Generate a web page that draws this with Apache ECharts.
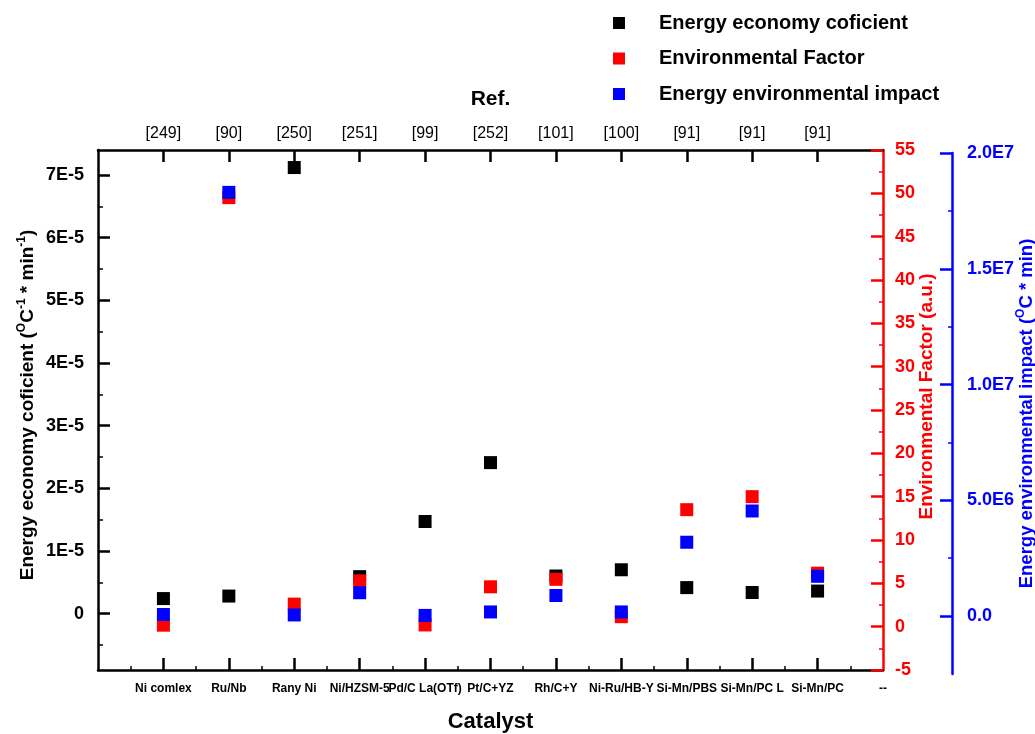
<!DOCTYPE html>
<html>
<head>
<meta charset="utf-8">
<script src="https://cdn.jsdelivr.net/npm/echarts@6/dist/echarts.min.js"></script>
<style>
html,body{margin:0;padding:0;background:#ffffff;}
#chart{width:1035px;height:734px;}
</style>
</head>
<body>
<div id="chart"></div>
<script>
// ---- data ----
const categories = ['Ni comlex', 'Ru/Nb', 'Rany Ni', 'Ni/HZSM-5', 'Pd/C La(OTf)', 'Pt/C+YZ', 'Rh/C+Y', 'Ni-Ru/HB-Y', 'Si-Mn/PBS', 'Si-Mn/PC L', 'Si-Mn/PC'];
const refLabels = ['[249]', '[90]', '[250]', '[251]', '[99]', '[252]', '[101]', '[100]', '[91]', '[91]', '[91]'];
const extraBottomLabel = '--';
const energyEconomy = [2.4e-6, 2.8e-6, 7.12e-5, 5.9e-6, 1.47e-5, 2.41e-5, 6.0e-6, 7.0e-6, 4.15e-6, 3.37e-6, 3.6e-6];
const envFactor = [0.17, 49.5, 2.6, 5.28, 0.2, 4.6, 5.46, 1.15, 13.5, 15.0, 6.17];
const energyEnvImpact = [7e4, 1.83e7, 5e4, 1.01e6, 3e4, 1.8e5, 8.9e5, 1.8e5, 3.19e6, 4.54e6, 1.72e6];
const seriesNames = ['Energy economy coficient', 'Environmental Factor', 'Energy environmental impact'];

// tick values
const xTickValues = [1, 2, 3, 4, 5, 6, 7, 8, 9, 10, 11];
const xBottomLabelValues = [1, 2, 3, 4, 5, 6, 7, 8, 9, 10, 11, 12];
const leftTickValues = [0, 1e-5, 2e-5, 3e-5, 4e-5, 5e-5, 6e-5, 7e-5];
const leftMinorValues = [-0.5e-5, 0.5e-5, 1.5e-5, 2.5e-5, 3.5e-5, 4.5e-5, 5.5e-5, 6.5e-5];
const blueTickValues = [0, 5e6, 1e7, 1.5e7, 2e7];
const blueMinorValues = [2.5e6, 7.5e6, 1.25e7, 1.75e7];

const FONT = 'Liberation Sans, Arial, Helvetica, sans-serif';
const BLACK = '#000000', RED = '#ff0000', BLUE = '#0000ff';

function leftFmt(v) {
  const n = Math.round(v * 1e5);
  return n === 0 ? '0' : n + 'E-5';
}
function blueFmt(v) {
  if (Math.abs(v) < 1) return '0.0';
  const e = Math.floor(Math.log10(Math.abs(v)) + 1e-9);
  const m = v / Math.pow(10, e);
  return m.toFixed(1) + 'E' + e;
}

const chart = echarts.init(document.getElementById('chart'), null, {renderer: 'canvas'});

const option = {
  animation: false,
  backgroundColor: '#ffffff',
  legend: {
    orient: 'vertical',
    left: 608,
    top: 8,
    itemWidth: 12,
    itemHeight: 12,
    itemGap: 15.5,
    icon: 'rect',
    data: seriesNames,
    textStyle: {fontFamily: FONT, fontSize: 20, fontWeight: 'bold', color: BLACK, lineHeight: 20, padding: [0, 0, 0, 29]}
  },
  grid: [
    {left: 98, right: 152, top: 150, bottom: 64, outerBoundsMode: 'none', containLabel: false},
    {left: 98, right: 152, top: 153, bottom: 60, outerBoundsMode: 'none', containLabel: false}
  ],
  xAxis: [
    {
      type: 'value', gridIndex: 0, position: 'bottom', min: 0, max: 12, interval: 1,
      name: 'Catalyst', nameLocation: 'middle', nameGap: 41, nameMoveOverlap: false,
      nameTextStyle: {fontFamily: FONT, fontSize: 22, fontWeight: 'bold', color: BLACK},
      axisLine: {show: true, onZero: false, lineStyle: {color: BLACK, width: 2.5}},
      axisTick: {show: true, inside: true, length: 12, lineStyle: {color: BLACK, width: 2.5}, customValues: xTickValues},
      minorTick: {show: true, splitNumber: 2, length: 4, lineStyle: {color: BLACK, width: 1.5}},
      axisLabel: {
        show: true, margin: 13, customValues: xBottomLabelValues, hideOverlap: false,
        fontFamily: FONT, fontSize: 12, fontWeight: 'bold', color: BLACK,
        formatter: v => (v >= 1 && v <= categories.length) ? categories[v - 1] : (v === 12 ? extraBottomLabel : '')
      },
      splitLine: {show: false}
    },
    {
      type: 'value', gridIndex: 0, position: 'top', min: 0, max: 12, interval: 1,
      name: 'Ref.', nameLocation: 'middle', nameGap: 40, nameMoveOverlap: false,
      nameTextStyle: {fontFamily: FONT, fontSize: 21, fontWeight: 'bold', color: BLACK},
      axisLine: {show: true, onZero: false, lineStyle: {color: BLACK, width: 2.5}},
      axisTick: {show: true, inside: true, length: 12, lineStyle: {color: BLACK, width: 2.5}, customValues: xTickValues},
      axisLabel: {
        show: true, margin: 8, customValues: xTickValues,
        fontFamily: FONT, fontSize: 16, fontWeight: 'normal', color: BLACK,
        formatter: v => (v >= 1 && v <= refLabels.length) ? refLabels[v - 1] : ''
      },
      splitLine: {show: false}
    },
    {
      type: 'value', gridIndex: 1, min: 0, max: 12, show: false,
      axisLine: {onZero: false}
    }
  ],
  yAxis: [
    {
      type: 'value', gridIndex: 0, position: 'left', min: -0.9e-5, max: 7.4e-5,
      name: '{n|Energy economy coficient (}{s|O}{n|C}{s|-1}{n| * min}{s|-1}{n|)}',
      nameLocation: 'middle', nameGap: 58, nameRotate: 90, nameMoveOverlap: false,
      nameTextStyle: {
        padding: [0, 0, 0, 10],
        rich: {
          n: {fontFamily: FONT, fontSize: 19, fontWeight: 'bold', color: BLACK, lineHeight: 24, verticalAlign: 'middle'},
          s: {fontFamily: FONT, fontSize: 12, fontWeight: 'bold', color: BLACK, lineHeight: 12, verticalAlign: 'top'}
        }
      },
      axisLine: {show: true, onZero: false, lineStyle: {color: BLACK, width: 2.5}},
      axisTick: {show: true, inside: true, length: 12, lineStyle: {color: BLACK, width: 2.5}, customValues: leftTickValues},
      axisLabel: {show: true, margin: 14, customValues: leftTickValues, formatter: leftFmt,
        fontFamily: FONT, fontSize: 18, fontWeight: 'bold', color: BLACK},
      splitLine: {show: false}
    },
    {
      type: 'value', gridIndex: 0, position: 'right', min: -5, max: 55, interval: 5,
      name: 'Environmental Factor (a.u.)', nameLocation: 'middle', nameGap: 34, nameRotate: 90, nameMoveOverlap: false,
      nameTextStyle: {fontFamily: FONT, fontSize: 19, fontWeight: 'bold', color: RED, padding: [0, 0, 0, 27]},
      axisLine: {show: true, onZero: false, lineStyle: {color: RED, width: 2.5}},
      axisTick: {show: true, inside: true, length: 12, lineStyle: {color: RED, width: 2.5}},
      minorTick: {show: true, splitNumber: 2, length: 4, lineStyle: {color: RED, width: 1.5}},
      axisLabel: {show: true, margin: 12, fontFamily: FONT, fontSize: 18, fontWeight: 'bold', color: RED},
      splitLine: {show: false}
    },
    {
      type: 'value', gridIndex: 1, position: 'right', offset: 69, min: -2.5e6, max: 2e7, interval: 2.5e6,
      name: '{n|Energy environmental impact (}{s|O}{n|C * min)}',
      nameLocation: 'middle', nameGap: 63, nameRotate: 90, nameMoveOverlap: false,
      nameTextStyle: {
        rich: {
          n: {fontFamily: FONT, fontSize: 18.5, fontWeight: 'bold', color: BLUE, lineHeight: 24, verticalAlign: 'middle'},
          s: {fontFamily: FONT, fontSize: 12, fontWeight: 'bold', color: BLUE, lineHeight: 12, verticalAlign: 'top'}
        }
      },
      axisLine: {show: true, onZero: false, lineStyle: {color: BLUE, width: 2.5}},
      axisTick: {show: true, inside: true, length: 12, lineStyle: {color: BLUE, width: 2.5}, customValues: blueTickValues},
      axisLabel: {show: true, margin: 15, customValues: blueTickValues, formatter: blueFmt,
        fontFamily: FONT, fontSize: 18, fontWeight: 'bold', color: BLUE},
      splitLine: {show: false}
    },
    {
      type: 'value', gridIndex: 0, position: 'left', min: -0.9e-5, max: 7.4e-5,
      axisLine: {show: false, onZero: false},
      axisTick: {show: true, inside: true, length: 5, lineStyle: {color: BLACK, width: 1.5}, customValues: leftMinorValues},
      axisLabel: {show: false},
      splitLine: {show: false}
    },
    {
      type: 'value', gridIndex: 1, position: 'right', offset: 69, min: -2.5e6, max: 2e7,
      axisLine: {show: false, onZero: false},
      axisTick: {show: true, inside: true, length: 4, lineStyle: {color: BLUE, width: 1.5}, customValues: blueMinorValues},
      axisLabel: {show: false},
      splitLine: {show: false}
    }
  ],
  series: [
    {
      name: seriesNames[0], type: 'scatter', xAxisIndex: 0, yAxisIndex: 0,
      symbol: 'rect', symbolSize: 13, itemStyle: {color: BLACK, opacity: 1},
      data: energyEconomy.map((v, i) => [i + 1, v])
    },
    {
      name: seriesNames[1], type: 'scatter', xAxisIndex: 0, yAxisIndex: 1,
      symbol: 'rect', symbolSize: 13, itemStyle: {color: RED, opacity: 1},
      data: envFactor.map((v, i) => [i + 1, v])
    },
    {
      name: seriesNames[2], type: 'scatter', xAxisIndex: 2, yAxisIndex: 2,
      symbol: 'rect', symbolSize: 13, itemStyle: {color: BLUE, opacity: 1},
      data: energyEnvImpact.map((v, i) => [i + 1, v])
    }
  ]
};
chart.setOption(option);
</script>
</body>
</html>
